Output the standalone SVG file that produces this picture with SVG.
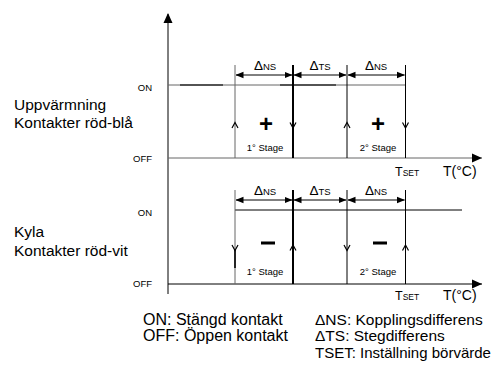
<svg xmlns="http://www.w3.org/2000/svg" width="504" height="369" viewBox="0 0 504 369">
<defs>
<marker id="dimArrow" viewBox="0 0 8 8" refX="7.5" refY="4" markerWidth="8" markerHeight="8" markerUnits="userSpaceOnUse" orient="auto-start-reverse">
<path d="M0,0.8 L8,4 L0,7.2 Z" fill="#000"/>
</marker>
<marker id="axisArrow" viewBox="0 0 10 10" refX="9" refY="5" markerWidth="10" markerHeight="10" markerUnits="userSpaceOnUse" orient="auto">
<path d="M0,0.5 L10,5 L0,9.5 Z" fill="#000"/>
</marker>
</defs>
<style>
text{font-family:"Liberation Sans",Arial,sans-serif;fill:#000}
.lbl{font-size:15.5px}
.leg{font-size:15.5px}
.legL{font-size:16px}
.legS{font-size:15px}
.small{font-size:9.5px;text-anchor:end}
.stage{font-size:9.5px;text-anchor:middle}
.delta{text-anchor:middle}
.thin{stroke:#666;stroke-width:1;fill:none}
.blk{stroke:#000;stroke-width:1;fill:none}
.bold{stroke:#000;stroke-width:2;fill:none}
.dim{stroke:#000;stroke-width:1;fill:none;marker-start:url(#dimArrow);marker-end:url(#dimArrow)}
.chev{stroke:#000;stroke-width:1.2;fill:none}
.sign{font-size:24px;font-weight:bold;text-anchor:middle}
</style>

<g id="axes">
<line class="blk" x1="168" y1="294" x2="168" y2="14" marker-end="url(#axisArrow)"/>
<line class="thin" x1="168" y1="158" x2="482" y2="158"/>
<path d="M472,153.5 L482,158 L472,162.5 Z" fill="#000"/>
<line class="blk" x1="168" y1="284" x2="482" y2="284"/>
<path d="M472,279.5 L482,284 L472,288.5 Z" fill="#000"/>
</g>

<g id="labels-left">
<text class="small" x="152" y="91">ON</text>
<text class="small" x="152" y="162">OFF</text>
<text class="lbl" x="14" y="110">Uppvärmning</text>
<text class="lbl" x="14" y="128">Kontakter röd-blå</text>
<text class="small" x="152" y="216">ON</text>
<text class="small" x="152" y="287">OFF</text>
<text class="lbl" x="14" y="237">Kyla</text>
<text class="lbl" x="14" y="256">Kontakter röd-vit</text>
</g>

<g id="heating">
<line class="thin" x1="168" y1="85" x2="406" y2="85"/>
<line x1="180" y1="85" x2="223" y2="85" stroke="#333" stroke-width="1.3"/>
<line x1="280" y1="85" x2="336" y2="85" stroke="#333" stroke-width="1.3"/>
<line class="thin" x1="235" y1="65" x2="235" y2="158"/>
<line class="bold" x1="293" y1="65" x2="293" y2="158"/>
<line class="blk" x1="347" y1="65" x2="347" y2="158"/>
<line class="blk" x1="405.5" y1="65" x2="405.5" y2="158"/>
<line class="dim" x1="236" y1="75" x2="292" y2="75"/>
<line class="dim" x1="294" y1="75" x2="346" y2="75"/>
<line class="dim" x1="348" y1="75" x2="404.5" y2="75"/>
<text class="delta" x="265" y="70"><tspan font-size="13.5">Δ</tspan><tspan font-size="9.5">NS</tspan></text>
<text class="delta" x="320" y="70"><tspan font-size="13.5">Δ</tspan><tspan font-size="9.5">TS</tspan></text>
<text class="delta" x="376" y="70"><tspan font-size="13.5">Δ</tspan><tspan font-size="9.5">NS</tspan></text>
<path class="chev" d="M232,128 L235,122.5 L238,128"/>
<path class="chev" d="M290,122.5 L293,128 L296,122.5"/>
<path class="chev" d="M344,128 L347,122.5 L350,128"/>
<path class="chev" d="M402.5,122.5 L405.5,128 L408.5,122.5"/>
<text class="sign" x="266" y="132">+</text>
<text class="sign" x="378" y="132">+</text>
<text class="stage" x="265" y="151">1° Stage</text>
<text class="stage" x="378" y="151">2° Stage</text>
<text x="395" y="176"><tspan font-size="12.5">T</tspan><tspan font-size="8.5">SET</tspan></text>
<text x="443" y="176" font-size="14">T(°C)</text>
</g>

<g id="cooling">
<line class="blk" x1="235" y1="210" x2="462" y2="210"/>
<line class="thin" x1="235" y1="190" x2="235" y2="284"/>
<line x1="235" y1="250" x2="235" y2="268" stroke="#000" stroke-width="1.6"/>
<line class="bold" x1="293" y1="190" x2="293" y2="284"/>
<line class="blk" x1="347" y1="190" x2="347" y2="284"/>
<line class="blk" x1="405.5" y1="190" x2="405.5" y2="284"/>
<line class="dim" x1="236" y1="200" x2="292" y2="200"/>
<line class="dim" x1="294" y1="200" x2="346" y2="200"/>
<line class="dim" x1="348" y1="200" x2="404.5" y2="200"/>
<text class="delta" x="265" y="195"><tspan font-size="13.5">Δ</tspan><tspan font-size="9.5">NS</tspan></text>
<text class="delta" x="320" y="195"><tspan font-size="13.5">Δ</tspan><tspan font-size="9.5">TS</tspan></text>
<text class="delta" x="376" y="195"><tspan font-size="13.5">Δ</tspan><tspan font-size="9.5">NS</tspan></text>
<path class="chev" d="M232,245 L235,250.5 L238,245"/>
<path class="chev" d="M290,250.5 L293,245 L296,250.5"/>
<path class="chev" d="M344,245 L347,250.5 L350,245"/>
<path class="chev" d="M402.5,250.5 L405.5,245 L408.5,250.5"/>
<rect x="261" y="241.5" width="14" height="3" fill="#000"/>
<rect x="373" y="241.5" width="14" height="3" fill="#000"/>
<text class="stage" x="265" y="275">1° Stage</text>
<text class="stage" x="378" y="275">2° Stage</text>
<text x="395" y="300"><tspan font-size="12.5">T</tspan><tspan font-size="8.5">SET</tspan></text>
<text x="443" y="300" font-size="14">T(°C)</text>
</g>

<g id="legend">
<text class="legL" x="143" y="325">ON: Stängd kontakt</text>
<text class="legL" x="143" y="341">OFF: Öppen kontakt</text>
<text class="leg" x="315" y="325">ΔNS: Kopplingsdifferens</text>
<text class="leg" x="315" y="341">ΔTS: Stegdifferens</text>
<text class="legS" x="315" y="358">TSET: Inställning börvärde</text>
</g>
</svg>
